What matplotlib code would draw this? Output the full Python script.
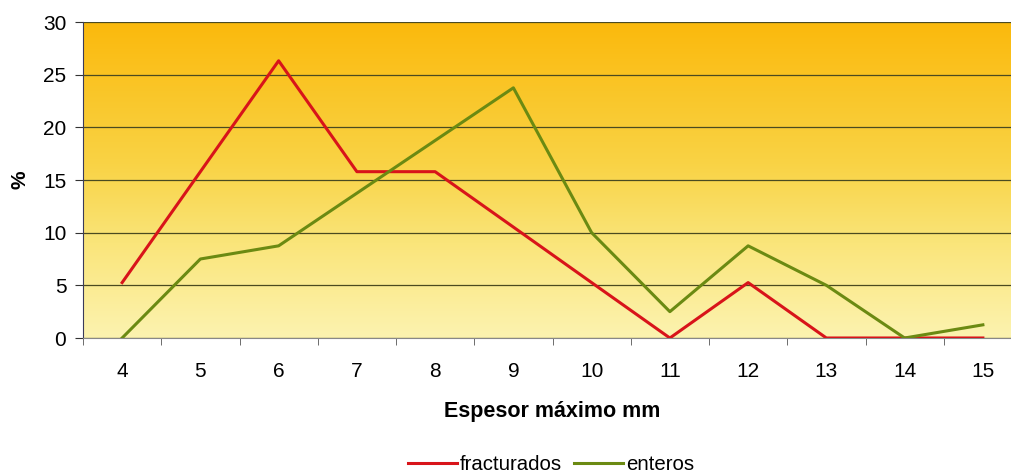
import numpy as np
import matplotlib
matplotlib.use("Agg")
import matplotlib.pyplot as plt
from matplotlib.colors import LinearSegmentedColormap

plt.rcParams["font.family"] = ["Liberation Sans", "DejaVu Sans"]

categories = [4, 5, 6, 7, 8, 9, 10, 11, 12, 13, 14, 15]
fracturados = [5.26, 15.79, 26.32, 15.79, 15.79, 10.53, 5.26, 0, 5.26, 0, 0, 0]
enteros = [0, 7.5, 8.75, 13.75, 18.75, 23.75, 10, 2.5, 8.75, 5, 0, 1.25]
yticks = [0, 5, 10, 15, 20, 25, 30]

fig = plt.figure(figsize=(10.11, 4.76), dpi=100)
left = 83 / 1011
bottom = 1 - 338 / 476
width = (1022 - 83) / 1011
height = (338 - 22) / 476
ax = fig.add_axes([left, bottom, width, height])

x = np.arange(len(categories))
ax.set_xlim(-0.5, len(categories) - 0.5)
ax.set_ylim(0, 30)

cmap = LinearSegmentedColormap.from_list(
    "bg", [(0.0, "#fcf3b0"), (0.3, "#fae57a"), (0.55, "#f9d345"),
           (0.8, "#fac526"), (1.0, "#fbb90c")])
grad = np.linspace(0, 1, 256).reshape(-1, 1)
ax.imshow(grad, aspect="auto", cmap=cmap, origin="lower",
          extent=[-0.5, len(categories) - 0.5, 0, 30], zorder=0)

for yv in yticks:
    ax.axhline(yv, color="#4a4a20", lw=0.9, zorder=1)

l1, = ax.plot(x, fracturados, color="#d8141a", lw=2.2, label="fracturados", zorder=3)
l2, = ax.plot(x, enteros, color="#6b8a12", lw=2.2, label="enteros", zorder=3)

ax.set_yticks(yticks)
ax.set_yticklabels([str(v) for v in yticks], fontsize=15)
ax.set_xticks(x)
ax.set_xticklabels([str(c) for c in categories], fontsize=15)
ax.tick_params(axis="x", which="major", length=0, pad=17)
ax.set_xticks(np.arange(-0.5, len(categories) - 0.5, 1), minor=True)
ax.tick_params(axis="x", which="minor", length=5, color="#555555", direction="out")
ax.tick_params(axis="y", length=6, color="#333333", direction="out", pad=6)

for s in ["top", "right"]:
    ax.spines[s].set_visible(False)
ax.spines["left"].set_color("#3a3a5a")
ax.spines["bottom"].set_color("#888888")

ax.set_ylabel("%", fontsize=15, fontweight="bold", labelpad=10)
ax.set_xlabel("Espesor máximo mm", fontsize=15.5, fontweight="bold", labelpad=15)

fig.legend(handles=[l1, l2], labels=["fracturados", "enteros"],
           loc="lower center", bbox_to_anchor=(0.545, -0.035), ncol=2, frameon=False,
           fontsize=14.7, handlelength=2.4, handletextpad=0.15, columnspacing=0.6)

fig.savefig("out.png", dpi=100, facecolor="white")
